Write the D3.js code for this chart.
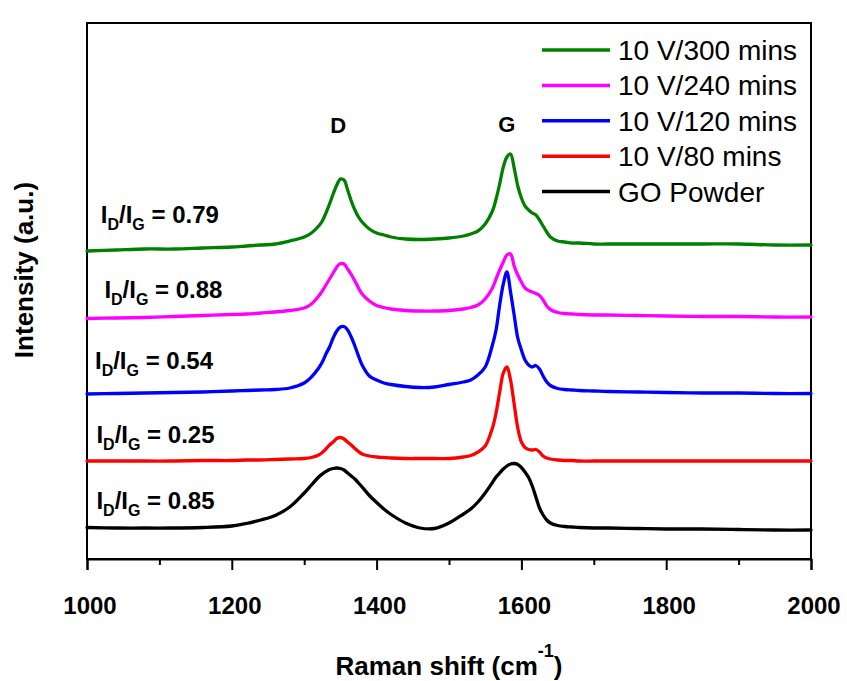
<!DOCTYPE html>
<html>
<head>
<meta charset="utf-8">
<script src="https://cdn.jsdelivr.net/npm/d3@7"></script>
<style>
  html, body { margin: 0; padding: 0; background: #ffffff; }
  svg { display: block; }
  text { font-family: Arial, "Liberation Sans", sans-serif; fill: #000; }
</style>
</head>
<body>
<svg id="chart" width="847" height="681"></svg>
<script>
// ---- Data ----
const wavenumbers = [1000,1040,1080,1120,1160,1200,1220,1240,1260,1280,1300,1310,1320,1325,1330,1335,1340,1345,1350,1355,1360,1365,1370,1375,1380,1390,1400,1410,1420,1440,1460,1480,1500,1520,1530,1540,1550,1560,1565,1570,1575,1580,1585,1590,1595,1600,1605,1610,1615,1620,1625,1630,1635,1640,1650,1660,1670,1680,1700,1720,1760,1800,1850,1900,1950,2000];

const v300 = [308,309,310,310,311,312,313,314,315,318,322,326,333,338,346,355,365,374,380,379,369,358,349,342,337,330,326,324,322,320,319.5,320,321,323,325,328,335,348,360,375,392,402,405,391,373,361,353,349,346,344,339,333,327,322,318,317,316,316,315,315,315,315,315,315,314,314];

const v240 = [240.5,241,241.5,242.5,243.5,244.5,245,246,247,248.5,251,255,263,268,274,280,286,292,295.5,295,290,284.5,278,271,265,258,253.5,251.5,250,248.5,248,248,248.5,250,251.5,254,260,271,280,289,297,304,305,293,284,277,271,268.5,267,265.5,263.5,259,253,249.5,246.5,245.5,245,244.5,244,244,243.5,243,242.5,242.5,242,242];

const v120 = [165,165.5,166,166.5,167,168,168.5,169,169.5,171,176,182,191,197,205,212,221,228,232,232.5,229,222,213,203,194,183,179,176,174.5,172.5,171.5,172,174.5,177,179,184,192,214,229,254,275,287,267,244,221,209,199,194,192,193.5,190,183,177,173.5,170.5,169.5,169,168.5,168,167.5,167,166.5,166,166,165.5,165.5];

const v80 = [98,98,98,98,98.5,98.5,99,99,99.5,100,100.5,101.5,104,106.5,110,114,117,120.5,121.5,120,117,114,110.5,107.5,105,103,102,101.5,101,100.5,100.5,100.5,100.5,102,103.5,107,113,131,146,167,186,192,179,155,131,117,111.5,109.5,109,109.5,107,103,101,100,99,98.5,98.5,98,98,98,98,98,98,98,98,98];

const goPowder = [31.5,31,31,31,31.5,33,35.5,39,43.5,52,66,74,82,85,87.5,89.5,90.5,91,90.5,89,86,83,80,76,72,63.5,56.5,50,44.5,36,31,30.5,36,45,50,57,66,76.5,82,86,90,93,95,95.5,94.5,91.5,87,81.5,73,62,51,44,39,36,33.5,32.5,32,31.5,31,31,30.5,30,30,29.5,29,29];

const seriesNames  = ["10 V/300 mins", "10 V/240 mins", "10 V/120 mins", "10 V/80 mins", "GO Powder"];
const seriesValues = [v300, v240, v120, v80, goPowder];
const seriesColors = ["#008000", "#ff00ff", "#0000ff", "#ff0000", "#000000"];

const ratioLabels = ["0.79", "0.88", "0.54", "0.25", "0.85"];
const ratioAtX    = [1019, 1024, 1011, 1013, 1013];   // cm-1 where the label starts
const ratioAtY    = [336, 261, 190, 116, 50];         // intensity at label baseline

const peakNames = ["D", "G"];
const peakAtX   = [1347, 1580];
const peakAtY   = [426, 427];

const majorTicks = [1000, 1200, 1400, 1600, 1800, 2000];
const minorTicks = [1100, 1300, 1500, 1700, 1900];

// ---- Layout ----
const svg = d3.select("#chart");

const x = d3.scaleLinear().domain([1000, 2000]).range([87, 811]);
const y = d3.scaleLinear().domain([0, 536]).range([559, 23]);

// Frame
svg.append("rect")
  .attr("x", x(1000)).attr("y", y(536))
  .attr("width", x(2000) - x(1000)).attr("height", y(0) - y(536))
  .attr("fill", "none").attr("stroke", "#000").attr("stroke-width", 2);

// Axes
const gMinor = svg.append("g").attr("transform", `translate(0,${y(0)})`)
  .call(d3.axisBottom(x).tickValues(minorTicks).tickSize(6).tickFormat(""));
gMinor.select(".domain").remove();
gMinor.selectAll("line").attr("stroke", "#000").attr("stroke-width", 2);

const gMajor = svg.append("g").attr("transform", `translate(0,${y(0)})`)
  .call(d3.axisBottom(x).tickValues(majorTicks).tickSize(11).tickPadding(27).tickFormat(d3.format("d")));
gMajor.select(".domain").attr("stroke", "#000").attr("stroke-width", 2);
gMajor.selectAll("line").attr("stroke", "#000").attr("stroke-width", 2);
gMajor.selectAll("text")
  .attr("font-size", 24).attr("font-weight", "bold")
  .attr("font-family", "Arial, 'Liberation Sans', sans-serif")
  .attr("dx", 2.5);

// Lines
const line = d3.line()
  .x((d, i) => x(wavenumbers[i]))
  .y(d => y(d))
  .curve(d3.curveCatmullRom.alpha(0.5));

seriesValues.forEach((vals, k) => {
  svg.append("path")
    .datum(vals)
    .attr("d", line)
    .attr("fill", "none")
    .attr("stroke", seriesColors[k])
    .attr("stroke-width", 3.3)
    .attr("stroke-linejoin", "round")
    .attr("stroke-linecap", "round");
});

// I_D/I_G labels
ratioLabels.forEach((lab, k) => {
  const t = svg.append("text")
    .attr("x", x(ratioAtX[k])).attr("y", y(ratioAtY[k]))
    .attr("font-size", 24).attr("font-weight", "bold");
  t.append("tspan").text("I");
  t.append("tspan").attr("font-size", 16).attr("dy", 7).text("D");
  t.append("tspan").attr("dy", -7).text("/I");
  t.append("tspan").attr("font-size", 16).attr("dy", 7).text("G");
  t.append("tspan").attr("dy", -7).text(" = " + lab);
});

// Peak labels
peakNames.forEach((p, k) => {
  svg.append("text")
    .attr("x", x(peakAtX[k])).attr("y", y(peakAtY[k]))
    .attr("text-anchor", "middle")
    .attr("font-size", 22).attr("font-weight", "bold")
    .text(p);
});

// Legend
const legend = svg.append("g");
seriesNames.forEach((name, k) => {
  const cy = 50 + k * 35.4;
  legend.append("line")
    .attr("x1", 542).attr("x2", 610).attr("y1", cy).attr("y2", cy)
    .attr("stroke", seriesColors[k]).attr("stroke-width", 3.5);
  legend.append("text")
    .attr("x", 618).attr("y", cy + 10)
    .attr("font-size", 28)
    .text(name);
});

// Axis titles
const xt = svg.append("text")
  .attr("x", (x(1000) + x(2000)) / 2).attr("y", 675)
  .attr("text-anchor", "middle")
  .attr("font-size", 26).attr("font-weight", "bold");
xt.append("tspan").text("Raman shift (cm");
xt.append("tspan").attr("font-size", 18).attr("dy", -18).text("-1");
xt.append("tspan").attr("dy", 18).text(")");

svg.append("text")
  .attr("transform", "translate(33,270) rotate(-90)")
  .attr("text-anchor", "middle")
  .attr("font-size", 26).attr("font-weight", "bold")
  .text("Intensity (a.u.)");
</script>
</body>
</html>
